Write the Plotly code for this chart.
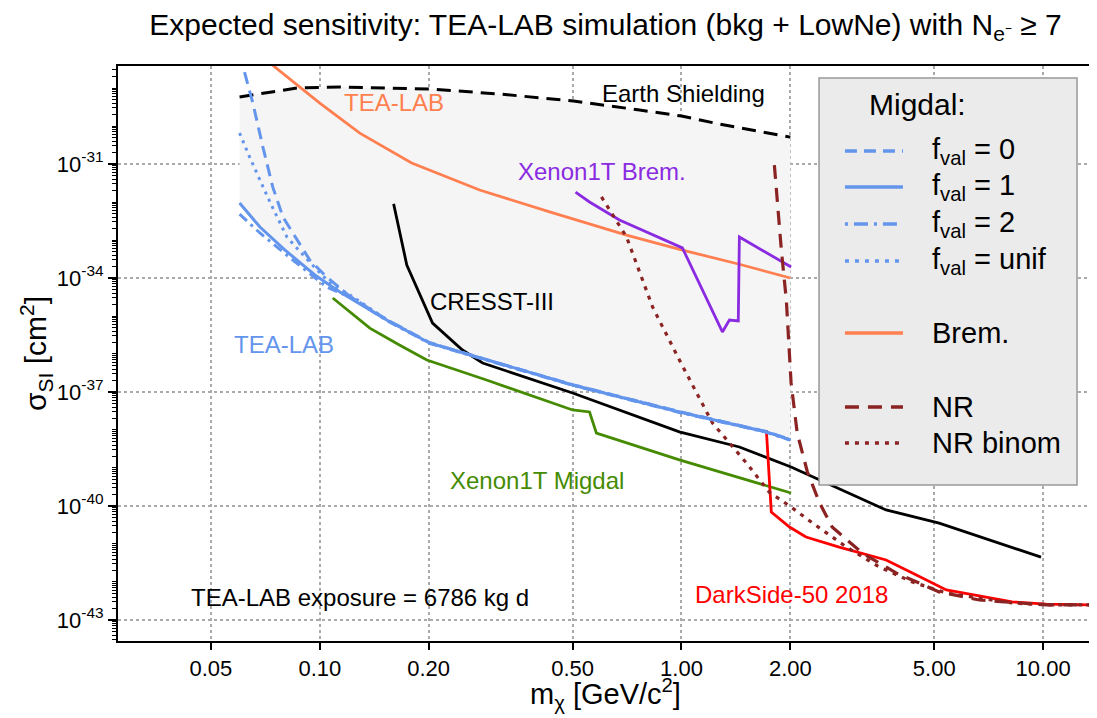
import plotly.graph_objects as go

# ---------------- data ----------------
# Earth shielding upper bound (black dashed)
earth_x = [0.06, 0.0864, 0.1136, 0.201, 0.314, 0.503, 0.766, 1.0, 1.27, 2.0]
earth_y = [5.8e-30, 1.0e-29, 1.06e-29, 9.4e-30, 6.95e-30, 4.55e-30, 2.64e-30, 1.83e-30, 1.13e-30, 5.1e-31]

# TEA-LAB Migdal curves (blue)
f0_x = [0.06, 0.0653, 0.0696, 0.0741, 0.0791, 0.0864, 0.0938, 0.1045, 0.121, 0.1531, 0.201, 0.289, 0.50, 0.987, 1.717, 2.0]
f0_y = [7.9e-29, 4.0e-30, 2.8e-31, 2.5e-32, 4.0e-33, 1.0e-33, 2.98e-34, 1.06e-34, 3.3e-35, 8.1e-36, 2.0e-36, 7.1e-37, 1.56e-37, 3.05e-38, 9.1e-39, 5.6e-39]

f1_x = [0.06, 0.0683, 0.080, 0.0969, 0.1136, 0.1531, 0.201, 0.289, 0.50, 0.987, 1.717, 2.0]
f1_y = [9.4e-33, 2.2e-33, 5.5e-34, 1.2e-34, 4.3e-35, 7.85e-36, 1.95e-36, 6.95e-37, 1.53e-37, 2.98e-38, 8.9e-39, 5.5e-39]

f2_x = [0.06, 0.0683, 0.0842, 0.1045, 0.1234, 0.1531, 0.201, 0.289, 0.50, 0.987, 1.717, 2.0]
f2_y = [4.8e-33, 1.53e-33, 2.98e-34, 5.8e-35, 2.9e-35, 7.6e-36, 1.9e-36, 6.8e-37, 1.5e-37, 2.9e-38, 8.7e-39, 5.4e-39]

funif_x = [0.06, 0.0641, 0.0728, 0.0811, 0.0938, 0.1066, 0.1234, 0.1531, 0.201, 0.289, 0.50, 0.987, 1.717, 2.0]
funif_y = [6.55e-31, 1.45e-31, 1.0e-32, 1.2e-33, 2.6e-34, 7.4e-35, 3.2e-35, 8.0e-36, 1.97e-36, 7.0e-37, 1.55e-37, 3.0e-38, 9.0e-39, 5.5e-39]

# TEA-LAB Bremsstrahlung (orange)
brem_x = [0.0705, 0.100, 0.129, 0.1795, 0.2767, 0.432, 0.705, 1.0, 1.446, 2.0]
brem_y = [5.8e-29, 4.0e-30, 6.5e-31, 1.06e-31, 2.07e-32, 5.5e-33, 1.35e-33, 5.5e-34, 2.3e-34, 1.0e-34]

# NR (dark red dashed) and NR binom (dark red dotted)
nr_x = [1.807, 1.889, 1.95, 2.01, 2.09, 2.23, 2.41, 2.61, 3.16, 3.92, 5.16, 6.66, 10.2, 14.0]
nr_y = [9.4e-32, 5.5e-34, 2.6e-35, 1.73e-37, 8.3e-39, 7.85e-40, 1.2e-40, 2.8e-41, 5.8e-42, 1.73e-42, 5.5e-43, 3.36e-43, 2.5e-43, 2.5e-43]

nrb_x = [0.601, 0.705, 0.832, 0.987, 1.218, 1.512, 1.75, 2.01, 2.30, 2.86, 3.52, 4.35, 5.40, 8.21, 10.2, 14.0]
nrb_y = [1.36e-32, 1.2e-33, 1.73e-35, 6.95e-37, 1.53e-38, 1.36e-39, 2.3e-40, 9.4e-41, 3.6e-41, 8.3e-42, 2.5e-42, 1.0e-42, 5.1e-43, 2.8e-43, 2.5e-43, 2.5e-43]

# Xenon1T Bremsstrahlung (purple)
xbrem_x = [0.5095, 0.557, 0.674, 0.816, 1.006, 1.298, 1.357, 1.436, 1.446, 2.01]
xbrem_y = [1.83e-32, 1.0e-32, 3.36e-33, 1.53e-33, 6.2e-34, 3.8e-36, 7.85e-36, 7.4e-36, 1.2e-33, 1.95e-34]

# Xenon1T Migdal (green)
xmig_x = [0.1086, 0.1375, 0.166, 0.1977, 0.289, 0.50, 0.557, 0.582, 0.987, 2.01]
xmig_y = [2.98e-35, 4.8e-36, 1.73e-36, 6.95e-37, 2.07e-37, 3.36e-38, 2.98e-38, 8.3e-39, 1.63e-39, 2.2e-40]

# CRESST-III (black)
cresst_x = [0.160, 0.174, 0.205, 0.248, 0.282, 0.50, 0.987, 1.446, 2.01, 3.68, 5.16, 9.87]
cresst_y = [8.9e-33, 2.2e-34, 6.5e-36, 1.27e-36, 5.8e-37, 9.4e-38, 8.9e-39, 3.57e-39, 1.06e-39, 7.85e-41, 3.55e-41, 4.5e-42]

# DarkSide-50 2018 (red)
ds_x = [1.717, 1.772, 1.99, 2.21, 2.73, 3.68, 4.35, 5.40, 8.21, 10.2, 14.0]
ds_y = [1.0e-38, 6.95e-41, 2.8e-41, 1.53e-41, 8.3e-42, 3.8e-42, 1.73e-42, 6.2e-43, 3.0e-43, 2.6e-43, 2.5e-43]

x_tickvals = [0.05, 0.1, 0.2, 0.5, 1, 2, 5, 10]
x_ticktext = ["0.05", "0.10", "0.20", "0.50", "1.00", "2.00", "5.00", "10.00"]
y_exponents = [-43, -40, -37, -34, -31]

# ---------------- styles ----------------
FONT = "Liberation Sans, Arial, Helvetica, sans-serif"
BLUE = "#6495ED"
ORANGE = "#FF7F50"
MAROON = "#8B2323"
PURPLE = "#8A2BE2"
GREEN = "#458B00"
RED = "#FF0000"

fig = go.Figure()

# shaded TEA-LAB reach region
fig.add_trace(go.Scatter(
    x=earth_x + f1_x[::-1], y=earth_y + f1_y[::-1],
    fill="toself", fillcolor="#f5f5f5", mode="lines",
    line=dict(width=0), hoverinfo="skip"))

def line(x, y, color, width=2.5, dash="solid"):
    fig.add_trace(go.Scatter(x=x, y=y, mode="lines",
                             line=dict(color=color, width=width, dash=dash)))

line(earth_x, earth_y, "black", 3, "14px,8px")
line(brem_x, brem_y, ORANGE, 2.8)
line(xbrem_x, xbrem_y, PURPLE, 2.8)
line(cresst_x, cresst_y, "black", 2.8)
line(xmig_x, xmig_y, GREEN, 2.8)
line(ds_x, ds_y, RED, 2.8)
line(nrb_x, nrb_y, MAROON, 3.2, "4px,6px")
line(nr_x, nr_y, MAROON, 3.2, "14px,9px")
line(f1_x, f1_y, BLUE, 3)
line(f2_x, f2_y, BLUE, 3, "10px,5px,3px,5px")
line(funif_x, funif_y, BLUE, 3, "3px,5px")
line(f0_x, f0_y, BLUE, 3, "12px,7px")

# minor tick positions for the log y axis
minor_vals = [m * 10.0 ** e for e in range(-44, -28) for m in range(1, 10)]

# The page body adds an 8px offset; the figure size/margins compensate for it.
fig.update_layout(
    width=1089, height=710,
    margin=dict(l=110, r=4, t=58, b=77, autoexpand=False),
    plot_bgcolor="white", paper_bgcolor="white",
    showlegend=False,
    font=dict(family=FONT, color="black"),
    title=dict(
        text="Expected sensitivity: TEA-LAB simulation (bkg + LowNe) with N<sub>e⁻</sub> ≥ 7",
        x=0.5, xref="paper", xanchor="center",
        y=0.977, yref="container", yanchor="middle",
        font=dict(size=30, family=FONT, color="black")),
    xaxis=dict(
        type="log", range=[-1.558, 1.138],
        tickmode="array", tickvals=x_tickvals, ticktext=x_ticktext,
        ticks="outside", ticklen=7, tickwidth=1.5, tickcolor="black",
        tickfont=dict(size=22, family=FONT),
        showgrid=True, gridcolor="#aaaaaa", griddash="dot", gridwidth=1.5,
        showline=True, linecolor="black", linewidth=2, mirror=True,
        zeroline=False),
    yaxis=dict(
        type="log", range=[-43.553, -28.421],
        tickmode="array", tickvals=[10.0 ** e for e in y_exponents],
        ticktext=["10<sup>%d</sup>" % e for e in y_exponents],
        ticks="outside", ticklen=8, tickwidth=1.5, tickcolor="black",
        tickfont=dict(size=22, family=FONT),
        showgrid=True, gridcolor="#aaaaaa", griddash="dot", gridwidth=1.5,
        showline=True, linecolor="black", linewidth=2, mirror=True,
        zeroline=False,
        minor=dict(tickmode="array", tickvals=minor_vals, ticks="outside",
                   ticklen=4, tickwidth=1, tickcolor="black", showgrid=False),
        title=dict(text="σ<sub>SI</sub> [cm<sup>2</sup>]",
                   font=dict(size=30, family=FONT), standoff=1)),
)

# x-axis title placed as a paper annotation below the tick labels
fig.add_annotation(text="m<sub>χ</sub> [GeV/c<sup>2</sup>]", x=0.5, y=-0.093,
                   xref="paper", yref="paper", xanchor="center", yanchor="middle",
                   showarrow=False, font=dict(size=29, family=FONT))

# in-plot labels (paper coordinates)
labels = [
    ("TEA-LAB", 0.2831, 0.9357, ORANGE),
    ("Earth Shielding", 0.5795, 0.9530, "black"),
    ("Xenon1T Brem.", 0.4964, 0.8157, PURPLE),
    ("CRESST-III", 0.3836, 0.5913, "black"),
    ("TEA-LAB", 0.1703, 0.5148, BLUE),
    ("Xenon1T Migdal", 0.4297, 0.2783, GREEN),
    ("TEA-LAB exposure = 6786 kg d", 0.2482, 0.0748, "black"),
    ("DarkSide-50 2018", 0.6903, 0.0817, RED),
]
for text, x, y, c in labels:
    fig.add_annotation(text=text, x=x, y=y, xref="paper", yref="paper",
                       xanchor="center", yanchor="middle", showarrow=False,
                       font=dict(size=24, color=c, family=FONT))

# manual legend box
fig.add_shape(type="rect", xref="paper", yref="paper",
              x0=0.719, x1=0.9836, y0=0.2713, y1=0.979,
              fillcolor="#ebebeb", line=dict(color="#999999", width=1.5),
              layer="above")
fig.add_annotation(text="Migdal:", x=0.8205, y=0.9322, xref="paper", yref="paper",
                   xanchor="center", yanchor="middle", showarrow=False,
                   font=dict(size=30, family=FONT))
legend_rows = [
    ("f<sub>val</sub> = 0", 0.8522, BLUE, "12px,7px"),
    ("f<sub>val</sub> = 1", 0.7896, BLUE, "solid"),
    ("f<sub>val</sub> = 2", 0.7252, BLUE, "3px,6px,14px,6px"),
    ("f<sub>val</sub> = unif", 0.6609, BLUE, "4px,6px"),
    ("Brem.", 0.5357, ORANGE, "solid"),
    ("NR", 0.4070, MAROON, "14px,9px"),
    ("NR binom", 0.3443, MAROON, "4px,6px"),
]
for text, y, c, d in legend_rows:
    fig.add_shape(type="line", xref="paper", yref="paper",
                  x0=0.7456, x1=0.8051, y0=y, y1=y,
                  line=dict(color=c, width=3.5, dash=d), layer="above")
    fig.add_annotation(text=text, x=0.8328, y=y, xref="paper", yref="paper",
                       xanchor="left", yanchor="middle", showarrow=False,
                       font=dict(size=29, family=FONT))

fig.write_html("out.html")
